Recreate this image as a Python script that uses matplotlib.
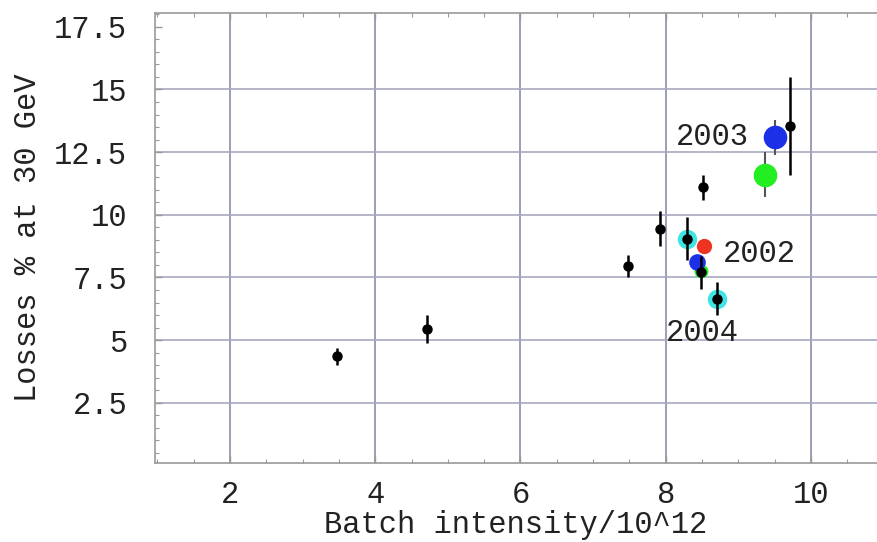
import matplotlib
matplotlib.use('Agg')
import matplotlib.pyplot as plt
from matplotlib.ticker import MultipleLocator

plt.rcParams['font.family'] = ['Liberation Mono', 'DejaVu Sans Mono']

# -------------- data --------------
black_x = [3.48, 4.71, 7.48, 7.92, 8.29, 8.51, 8.48, 8.71, 9.71]
black_y = [4.35, 5.45, 7.95, 9.45, 9.05, 11.1, 7.7, 6.65, 13.55]
black_err = [0.35, 0.55, 0.45, 0.7, 0.85, 0.5, 0.65, 0.65, 1.95]

cyan_x = [8.29, 8.71]
cyan_y = [9.05, 6.65]

blue_x = [9.50, 8.43]
blue_y = [13.1, 8.1]
blue_err = [0.7, 0.0]
blue_size = [17, 12]

green_x = [9.37, 8.48]
green_y = [11.6, 7.75]
green_err = [0.9, 0.0]
green_size = [17, 10]

red_x = [8.53]
red_y = [8.75]

years = ['2003', '2002', '2004']
year_x = [9.14, 8.79, 8.0]
year_y = [13.1, 8.45, 5.3]
year_ha = ['right', 'left', 'left']

x_ticks = [2, 4, 6, 8, 10]
y_ticks = [2.5, 5, 7.5, 10, 12.5, 15, 17.5]
y_labels = ['2.5', '5', '7.5', '10', '12.5', '15', '17.5']

FS = 22

fig = plt.figure(figsize=(8.77, 5.42), dpi=100)
ax = fig.add_axes([0.1767, 0.1458, 0.8233, 0.8302])
ax.set_xlim(0.967, 10.91)
ax.set_ylim(0.1, 18.05)

# grid
for xv in x_ticks:
    ax.axvline(xv, color='#8c8ca8', linewidth=1.2, zorder=0)
for yv in y_ticks[:-1]:
    ax.axhline(yv, color='#a8a8c0', linewidth=1.2, zorder=0)

# coloured markers (behind)
for i in range(len(blue_x)):
    if blue_err[i] > 0:
        ax.errorbar(blue_x[i], blue_y[i], yerr=blue_err[i], fmt='none',
                    ecolor='#555555', elinewidth=1.5, zorder=2)
for i in range(len(green_x)):
    if green_err[i] > 0:
        ax.errorbar(green_x[i], green_y[i], yerr=green_err[i], fmt='none',
                    ecolor='#555555', elinewidth=1.5, zorder=2)

ax.plot(cyan_x, cyan_y, 'o', color='#40e4e4', markersize=14, markeredgewidth=0, zorder=3)
for i in range(len(green_x)):
    ax.plot(green_x[i], green_y[i], 'o', color='#22ee22', markersize=green_size[i],
            markeredgewidth=0, zorder=3)
ax.plot(red_x, red_y, 'o', color='#ee3322', markersize=11, markeredgewidth=0, zorder=3)
for i in range(len(blue_x)):
    ax.plot(blue_x[i], blue_y[i], 'o', color='#1c30e8', markersize=blue_size[i],
            markeredgewidth=0, zorder=4)

# black points with error bars
ax.errorbar(black_x, black_y, yerr=black_err, fmt='o', color='black',
            markersize=6.5, elinewidth=1.8, capsize=0, zorder=5)

for t, xv, yv, ha in zip(years, year_x, year_y, year_ha):
    ax.text(xv, yv, t, fontsize=FS, ha=ha, va='center', color='#222222', zorder=6)

# frame
for side in ['left', 'bottom', 'top']:
    ax.spines[side].set_color('#999999')
    ax.spines[side].set_linewidth(1.2)
ax.spines['right'].set_visible(False)

ax.set_xticks(x_ticks)
ax.set_yticks(y_ticks)
ax.set_yticklabels(y_labels)
ax.xaxis.set_minor_locator(MultipleLocator(0.5))
ax.yaxis.set_minor_locator(MultipleLocator(0.5))
ax.tick_params(which='both', direction='in', top=True, right=False,
               colors='#999999', labelcolor='#222222', labelsize=FS)
ax.tick_params(which='major', length=5, width=1)
ax.tick_params(which='minor', length=3, width=0.8)
ax.tick_params(axis='y', pad=20)
ax.tick_params(axis='x', pad=12)

ax.set_xlabel('Batch intensity/10^12', fontsize=FS, color='#222222', labelpad=0)
ax.set_ylabel('Losses % at 30 GeV', fontsize=FS, color='#222222', labelpad=8)

fig.savefig('out.png', dpi=100)
